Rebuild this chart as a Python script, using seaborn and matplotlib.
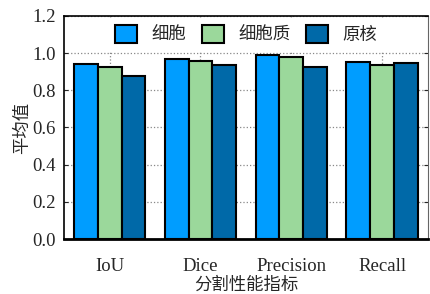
import matplotlib
matplotlib.use('Agg')
import matplotlib.pyplot as plt
import seaborn as sns
import pandas as pd

metrics = ['IoU', 'Dice', 'Precision', 'Recall']
cell = [0.941, 0.968, 0.989, 0.953]
cytoplasm = [0.926, 0.959, 0.980, 0.938]
nucleus = [0.876, 0.935, 0.923, 0.945]
series = ['细胞', '细胞质', '原核']
colors = ['#009DFF', '#9BD89B', '#0069A8']

df = pd.DataFrame({
    'metric': metrics * 3,
    'value': cell + cytoplasm + nucleus,
    'kind': [s for s in series for _ in metrics],
})

sns.set_style('white')
plt.rcParams['font.family'] = ['Liberation Serif', 'Noto Sans CJK SC']

fig, ax = plt.subplots(figsize=(4.3, 2.94), dpi=100)
fig.subplots_adjust(left=0.149, right=0.995, bottom=0.187, top=0.946)

sns.barplot(ax=ax, data=df, x='metric', y='value', hue='kind', palette=colors,
            width=0.79, edgecolor='black', linewidth=1.5, saturation=1)

ax.set_ylim(0, 1.2)
ax.set_yticks([0.0, 0.2, 0.4, 0.6, 0.8, 1.0, 1.2])
ax.set_yticklabels(['0.0', '0.2', '0.4', '0.6', '0.8', '1.0', '1.2'])
ax.grid(True, linestyle=':', color='#888888', linewidth=0.9)
ax.set_axisbelow(True)
ax.tick_params(labelsize=13.5, direction='in', length=3, width=0.8, pad=6,
               right=True, left=True, bottom=False)
ax.tick_params(axis='x', pad=14)
for s in ax.spines.values():
    s.set_color('black')
    s.set_linewidth(1.2)
ax.spines['bottom'].set_linewidth(2)
ax.spines['right'].set_color('#666666')
ax.spines['right'].set_linewidth(0.8)

ax.set_xlabel('分割性能指标', fontsize=12.5, family=['Noto Sans CJK SC'], labelpad=0)
ax.set_ylabel('平均值', fontsize=12.5, family=['Noto Sans CJK SC'], labelpad=1)

leg = ax.legend(loc='upper center', ncol=3, frameon=True,
                framealpha=1, edgecolor='white', fancybox=False,
                handlelength=1.3, handleheight=1.3, columnspacing=0.9,
                handletextpad=0.8, borderaxespad=0.1,
                prop={'family': ['Noto Sans CJK SC'], 'size': 12.5})

plt.savefig('out.png', dpi=100)
